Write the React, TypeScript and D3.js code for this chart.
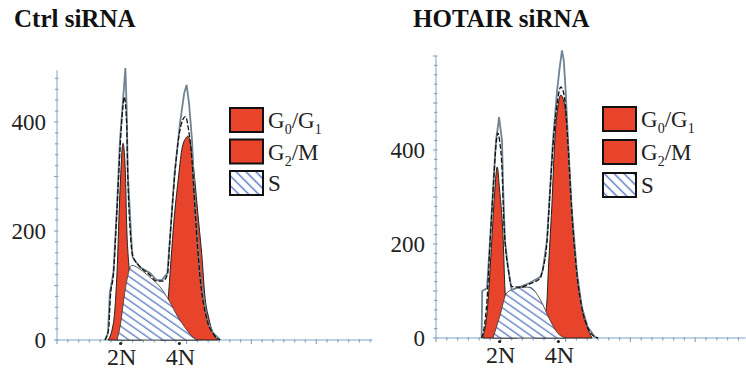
import * as d3 from 'd3';

// DNA histograms, x = channel, y = cell count
type Pt = [number, number];

// Ctrl siRNA
const ctrlRaw: Pt[] = [
  [40, 0], [42.5, 13], [44, 86], [47, 123], [50, 244], [52.5, 367], [55, 440], [57, 499],
  [58, 428], [59, 306], [62, 183], [63, 152], [69, 134], [77.5, 123], [83, 110], [87.5, 110],
  [92, 123], [94, 183], [98, 306], [102.5, 398], [106, 453], [108, 468], [110, 435],
  [112.5, 367], [115, 244], [119, 123], [125, 37], [130, 13], [136, 0],
];
const ctrlFit: Pt[] = [
  [40, 0], [43, 20], [44.5, 80], [47, 120], [50, 240], [52.5, 350], [55, 430], [56, 446],
  [58, 400], [59, 300], [61, 200], [63, 155], [69, 135], [77, 120], [83, 108], [88, 108],
  [92, 120], [94, 180], [98, 300], [102, 380], [105, 405], [107, 410], [110, 380],
  [112.5, 330], [115, 240], [119, 120], [125, 37], [130, 12], [136, 0],
];
const ctrlG1: Pt[] = [
  [42.5, 0], [47, 31], [50, 123], [52.5, 275], [55, 361], [57, 306], [58, 215], [60, 134],
  [63, 60], [67, 15], [71, 0],
];
const ctrlG2: Pt[] = [
  [86, 0], [90, 37], [92.5, 73], [95, 147], [97.5, 220], [101, 294], [104, 349], [107.5, 371],
  [109, 374], [111.5, 358], [114, 312], [117.5, 229], [121, 147], [123, 86], [126.5, 40],
  [130, 13], [134, 0],
];
const ctrlS: Pt[] = [
  [50, 0], [53, 30], [56, 80], [62.5, 137], [69, 130], [77.5, 115], [86, 97], [94, 70],
  [100, 45], [106, 25], [112, 8], [117, 0],
];

// HOTAIR siRNA
const hotRaw: Pt[] = [
  [38, 0], [38.5, 100], [42.5, 106], [45, 206], [47.5, 315], [50, 421], [52, 457], [52.5, 470],
  [55, 421], [56, 315], [57.5, 206], [60, 151], [63, 102], [70, 109], [78, 117], [87, 130],
  [89, 145], [92.5, 209], [95, 315], [97.5, 421], [101, 528], [103, 574], [105, 612],
  [106.5, 590], [108, 528], [110, 421], [113, 279], [117.5, 138], [121.5, 66], [126.5, 23],
  [132.5, 2], [135, 0],
];
const hotFit: Pt[] = [
  [38, 0], [40, 20], [42.5, 80], [45, 200], [47.5, 310], [50, 410], [51.5, 436], [53, 420],
  [55, 360], [56.5, 250], [58, 190], [60, 150], [63, 110], [70, 108], [78, 115], [87, 128],
  [89, 145], [92.5, 205], [95, 310], [97.5, 410], [101, 500], [104, 534], [106.5, 520],
  [108, 490], [110, 410], [113, 275], [117.5, 135], [121.5, 65], [126.5, 22], [132.5, 2],
  [135, 0],
];
const hotG1: Pt[] = [
  [39, 0], [43, 66], [46.5, 209], [49, 315], [51, 364], [53, 315], [56, 209], [57.5, 102],
  [60, 50], [63, 15], [67.5, 0],
];
const hotG2: Pt[] = [
  [82.5, 0], [87.5, 20], [91, 50], [92.5, 81], [93.5, 138], [96.5, 279], [99, 421],
  [101.5, 491], [104, 517], [107.5, 491], [110, 421], [113, 279], [117.5, 138], [121.5, 66],
  [126, 23], [130, 0],
];
const hotS: Pt[] = [
  [47.5, 0], [53, 45], [59, 96], [67.5, 106], [75, 108], [78, 108], [87, 81], [95, 38],
  [101.5, 10], [108, 0],
];

const yLabels = [0, 200, 400];
const ploidyTicks: [string, number][] = [['2N', 53], ['4N', 102]];
const legendItems = ['G0/G1', 'G2/M', 'S'];

const RED = '#e8432b';
const AXIS = '#a9c3da';
const HATCH = '#4f6fbf';
const SERIF = 'Liberation Serif, Times New Roman, serif';

interface PanelProps {
  title: string;
  titleX: number;
  originX: number;
  y0: number;
  yMax: number;
  yTop: number;
  xMax: number;
  legendX: number;
  legendY: number;
  legendStep: number;
  raw: Pt[];
  fit: Pt[];
  g1: Pt[];
  g2: Pt[];
  s: Pt[];
}

function LegendLabel({ name, x, y }: { name: string; x: number; y: number }) {
  const sub = { fontSize: 14, baselineShift: '-6px' } as any;
  if (name === 'G0/G1') {
    return (
      <text x={x} y={y} fontSize={23} fontFamily={SERIF} fill="#222">
        G<tspan style={sub}>0</tspan>/G<tspan style={sub}>1</tspan>
      </text>
    );
  }
  if (name === 'G2/M') {
    return (
      <text x={x} y={y} fontSize={23} fontFamily={SERIF} fill="#222">
        G<tspan style={sub}>2</tspan>/M
      </text>
    );
  }
  return (
    <text x={x} y={y} fontSize={23} fontFamily={SERIF} fill="#222">
      {name}
    </text>
  );
}

function Panel(p: PanelProps) {
  const x = d3.scaleLinear().domain([0, p.xMax]).range([p.originX, p.originX + p.xMax * 1.2]);
  const y = d3.scaleLinear().domain([0, p.yMax]).range([p.y0, p.yTop]);

  const area = d3.area<Pt>()
    .x(d => x(d[0]))
    .y0(y(0))
    .y1(d => y(d[1]))
    .curve(d3.curveMonotoneX);
  const rawLine = d3.line<Pt>().x(d => x(d[0])).y(d => y(d[1]));
  const fitLine = d3.line<Pt>().x(d => x(d[0])).y(d => y(d[1])).curve(d3.curveMonotoneX);

  const yMinor = d3.range(0, p.yMax + 1, 20);
  const xMinor = d3.range(0, p.xMax + 1, 9);

  return (
    <g>
      <text x={p.titleX} y={27} fontSize={25} fontWeight="bold" fontFamily={SERIF} fill="#111">
        {p.title}
      </text>

      {/* axes */}
      <line x1={x(0)} x2={x(0)} y1={y(0)} y2={y(p.yMax)} stroke={AXIS} strokeWidth={1.5} />
      <line x1={x(0)} x2={x(p.xMax)} y1={y(0)} y2={y(0)} stroke={AXIS} strokeWidth={1.5} />
      {yMinor.map(v => (
        <line key={v} x1={x(0) - (v % 100 === 0 ? 3 : 2)} x2={x(0) + 1.5} y1={y(v)} y2={y(v)}
          stroke="#8aa8c2" strokeWidth={1.2} />
      ))}
      {xMinor.map(v => (
        <line key={v} x1={x(v)} x2={x(v)} y1={y(0) - 1} y2={y(0) + (v % 54 === 0 ? 4 : 2.5)}
          stroke="#8aa8c2" strokeWidth={1.2} />
      ))}
      {yLabels.map(v => (
        <text key={v} x={x(0) - 11} y={y(v)} dy="0.35em" textAnchor="end" fontSize={23}
          fontFamily={SERIF} fill="#222">{v}</text>
      ))}
      {ploidyTicks.map(([lab, c]) => (
        <g key={lab}>
          <circle cx={x(c)} cy={y(0) + 3.5} r={1.6} fill="#222" />
          <text x={x(c) + 1} y={y(0) + 25} textAnchor="middle" fontSize={24} fontFamily={SERIF}
            fill="#222">{lab}</text>
        </g>
      ))}

      {/* populations */}
      <path d={area(p.g1) || ''} fill={RED} stroke="#222" strokeWidth={1} />
      <path d={area(p.g2) || ''} fill={RED} stroke="#222" strokeWidth={1} />
      <path d={area(p.s) || ''} fill="url(#hatch)" stroke="#333" strokeWidth={0.8} />
      <path d={rawLine(p.raw) || ''} fill="none" stroke="#6f8392" strokeWidth={1.8} />
      <path d={fitLine(p.fit) || ''} fill="none" stroke="#111" strokeWidth={1.3}
        strokeDasharray="5,2" />

      {/* legend */}
      {legendItems.map((name, i) => {
        const by = p.legendY + i * p.legendStep;
        return (
          <g key={name}>
            <rect x={p.legendX} y={by} width={33} height={24}
              fill={name === 'S' ? 'url(#hatchLegend)' : RED} stroke="#111" strokeWidth={2} />
            <LegendLabel name={name} x={p.legendX + 38} y={by + 20} />
          </g>
        );
      })}
    </g>
  );
}

export default function App() {
  return (
    <svg width={746} height={372}
      style={{ position: 'absolute', left: 0, top: 0, background: '#fff', display: 'block' }}>
      <defs>
        <pattern id="hatch" patternUnits="userSpaceOnUse" width={8} height={6.5}
          patternTransform="rotate(35)">
          <rect width={8} height={6.5} fill="#fff" />
          <line x1={0} y1={3} x2={8} y2={3} stroke={HATCH} strokeWidth={1.2} />
        </pattern>
        <pattern id="hatchLegend" patternUnits="userSpaceOnUse" width={8} height={7}
          patternTransform="rotate(45)">
          <rect width={8} height={7} fill="#fff" />
          <line x1={0} y1={3.5} x2={8} y2={3.5} stroke={HATCH} strokeWidth={1.4} />
        </pattern>
      </defs>
      <rect width={746} height={372} fill="#fff" />
      <Panel title="Ctrl siRNA" titleX={14} originX={57} y0={340} yMax={495} yTop={340 - 495 * 0.545}
        xMax={263} legendX={230} legendY={108} legendStep={31.5}
        raw={ctrlRaw} fit={ctrlFit} g1={ctrlG1} g2={ctrlG2} s={ctrlS} />
      <Panel title="HOTAIR siRNA" titleX={413} originX={436} y0={338} yMax={600} yTop={338 - 600 * 0.47}
        xMax={258} legendX={603} legendY={107} legendStep={33}
        raw={hotRaw} fit={hotFit} g1={hotG1} g2={hotG2} s={hotS} />
    </svg>
  );
}
